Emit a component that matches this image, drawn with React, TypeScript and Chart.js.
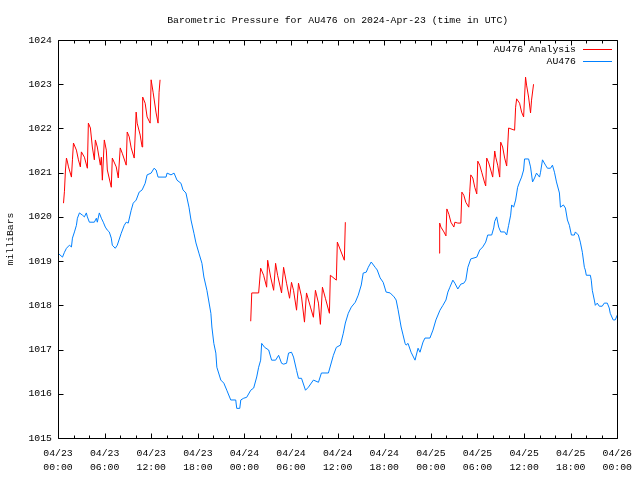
import React, { useEffect, useRef } from 'react';
import { Chart, registerables } from 'chart.js';

Chart.register(...registerables);

const TITLE = 'Barometric Pressure for AU476 on 2024-Apr-23 (time in UTC)';
const Y_TITLE = 'milliBars';
const ANALYSIS_LABEL = 'AU476 Analysis';
const OBS_LABEL = 'AU476';

const X_MIN = 0;
const X_MAX = 72;
const X_MAJOR_STEP = 6;
const X_MINOR_STEP = 2;
const Y_MIN = 1015;
const Y_MAX = 1024;

const X_TICK_DATES = ['04/23', '04/23', '04/23', '04/23', '04/24', '04/24', '04/24', '04/24', '04/25', '04/25', '04/25', '04/25', '04/26'];
const X_TICK_TIMES = ['00:00', '06:00', '12:00', '18:00', '00:00', '06:00', '12:00', '18:00', '00:00', '06:00', '12:00', '18:00', '00:00'];

// Observations (hours since 04/23 00:00 UTC)
const obsHours = [
  0, 0.58, 0.83, 1.09, 1.47, 1.73, 1.86, 2.12, 2.37, 2.5, 2.76, 3.14, 3.4, 3.65, 3.78, 4.04, 4.68, 4.94, 5.06, 5.32,
  5.58, 5.83, 6.09, 6.35, 6.6, 6.86, 6.99, 7.37, 7.63, 8.14, 8.53, 8.78, 9.04, 9.42, 9.68, 10.06, 10.45, 10.83, 11.22, 11.47,
  11.99, 12.37, 12.63, 12.88, 13.91, 14.04, 14.55, 14.94, 15.32, 15.83, 16.09, 16.47, 16.86, 17.12, 17.5, 17.76, 18.14, 18.53, 18.78, 19.17,
  19.68, 19.81, 20.06, 20.32, 20.45, 20.96, 21.35, 21.73, 22.24, 22.88, 23.01, 23.4, 23.53, 23.91, 24.29, 24.81, 25.19, 25.58, 25.83, 26.09,
  26.22, 26.6, 27.12, 27.5, 28.01, 28.4, 28.78, 29.04, 29.42, 29.68, 30.06, 30.32, 30.71, 30.96, 31.35, 31.86, 32.24, 32.88, 33.53, 33.91,
  34.81, 35.45, 35.83, 36.35, 36.73, 36.99, 37.37, 37.76, 38.27, 38.65, 39.04, 39.29, 39.68, 39.94, 40.32, 40.83, 41.09, 41.47, 41.86, 42.24,
  42.76, 43.27, 43.53, 43.78, 44.17, 44.42, 44.68, 44.81, 45.06, 45.45, 45.96, 46.35, 46.6, 46.99, 47.24, 47.88, 48.27, 48.65, 49.17, 49.55,
  49.94, 50.19, 50.45, 50.83, 51.09, 51.47, 51.86, 52.24, 52.5, 52.76, 53.14, 53.91, 54.29, 54.68, 55.06, 55.32, 55.83, 56.09, 56.22, 56.47,
  56.73, 56.99, 57.5, 57.76, 58.01, 58.27, 58.4, 58.65, 58.91, 59.17, 59.42, 59.68, 59.94, 60.06, 60.58, 60.83, 61.09, 61.35, 61.6, 61.99,
  62.12, 62.37, 62.76, 63.01, 63.4, 63.65, 63.91, 64.17, 64.55, 64.68, 65.06, 65.32, 65.58, 65.83, 66.09, 66.47, 66.6, 66.99, 67.24, 67.5,
  67.76, 67.88, 68.01, 68.53, 68.65, 68.78, 69.04, 69.17, 69.42, 69.68, 70.06, 70.32, 70.71, 70.96, 71.09, 71.47, 71.73, 72,
];
const obsPressure = [
  1019.18, 1019.09, 1019.2, 1019.29, 1019.36, 1019.32, 1019.52, 1019.66, 1019.81, 1019.97, 1020.09, 1020.04, 1020.0, 1020.09, 1020.0, 1019.88, 1019.88, 1019.97, 1019.88, 1020.09,
  1019.97, 1019.88, 1019.77, 1019.7, 1019.66, 1019.52, 1019.36, 1019.29, 1019.36, 1019.63, 1019.81, 1019.88, 1019.86, 1020.15, 1020.31, 1020.38, 1020.56, 1020.61, 1020.76, 1020.95,
  1020.99, 1021.1, 1021.06, 1020.9, 1020.9, 1020.99, 1020.95, 1020.99, 1020.83, 1020.76, 1020.61, 1020.54, 1020.22, 1019.93, 1019.63, 1019.41, 1019.18, 1018.95, 1018.64, 1018.34,
  1017.82, 1017.51, 1017.14, 1016.92, 1016.6, 1016.31, 1016.24, 1016.08, 1015.86, 1015.86, 1015.67, 1015.67, 1015.86, 1015.9, 1015.92, 1016.08, 1016.13, 1016.38, 1016.6, 1016.76,
  1017.14, 1017.05, 1016.99, 1016.76, 1016.76, 1016.87, 1016.69, 1016.67, 1016.69, 1016.92, 1016.94, 1016.83, 1016.53, 1016.35, 1016.35, 1016.08, 1016.15, 1016.31, 1016.26, 1016.47,
  1016.47, 1016.87, 1017.05, 1017.1, 1017.37, 1017.6, 1017.82, 1017.96, 1018.07, 1018.23, 1018.46, 1018.73, 1018.75, 1018.86, 1018.98, 1018.86, 1018.8, 1018.62, 1018.52, 1018.3,
  1018.28, 1018.19, 1018.12, 1017.9, 1017.51, 1017.33, 1017.14, 1017.1, 1017.14, 1016.94, 1016.76, 1017.03, 1016.94, 1017.17, 1017.26, 1017.26, 1017.44, 1017.67, 1017.89, 1018.0,
  1018.12, 1018.3, 1018.41, 1018.57, 1018.5, 1018.37, 1018.48, 1018.5, 1018.57, 1018.86, 1019.05, 1019.09, 1019.25, 1019.32, 1019.43, 1019.59, 1019.59, 1019.75, 1019.9, 1020.0,
  1019.77, 1019.66, 1019.66, 1019.59, 1019.81, 1020.04, 1020.27, 1020.22, 1020.38, 1020.67, 1020.79, 1020.9, 1021.06, 1021.31, 1021.31, 1021.13, 1020.79, 1020.88, 1020.99, 1020.9,
  1021.01, 1021.29, 1021.17, 1021.1, 1021.1, 1021.17, 1021.01, 1020.79, 1020.54, 1020.22, 1020.27, 1020.2, 1019.93, 1019.81, 1019.59, 1019.59, 1019.66, 1019.59, 1019.43, 1019.2,
  1018.86, 1018.8, 1018.68, 1018.68, 1018.57, 1018.34, 1018.12, 1018.0, 1018.05, 1017.98, 1017.98, 1018.05, 1018.05, 1017.94, 1017.82, 1017.67, 1017.67, 1017.78,
];

// Analysis, three runs
const anaHours1 = [
  0.71, 0.83, 0.96, 1.09, 1.22, 1.35, 1.73, 1.86, 1.99, 2.37, 2.63, 2.88, 3.01, 3.4, 3.78, 3.91, 4.17, 4.42,
  4.68, 4.81, 5.06, 5.45, 5.58, 5.71, 5.96, 6.22, 6.35, 6.86, 6.99, 7.5, 7.76, 8.01, 8.27, 8.78, 8.91, 9.17,
  9.42, 9.81, 10.06, 10.19, 10.58, 10.83, 10.9, 11.22, 11.47, 11.86, 11.99, 12.24, 12.63, 12.88, 13.01, 13.14,
];
const anaPressure1 = [
  1020.31, 1020.58, 1021.06, 1021.33, 1021.24, 1021.13, 1020.9, 1021.29, 1021.67, 1021.51, 1021.29, 1021.13, 1021.47, 1021.35, 1021.1, 1022.12, 1022.01, 1021.58,
  1021.29, 1021.74, 1021.58, 1021.17, 1021.35, 1020.83, 1021.74, 1021.51, 1021.06, 1020.67, 1021.33, 1021.13, 1020.88, 1021.56, 1021.44, 1021.17, 1021.92, 1021.81,
  1021.56, 1021.33, 1022.37, 1022.12, 1021.85, 1021.58, 1022.71, 1022.57, 1022.26, 1022.12, 1023.1, 1022.82, 1022.35, 1022.12, 1022.82, 1023.1,
];
const anaHours2 = [
  24.81, 24.94, 25.83, 26.09, 26.47, 26.86, 26.99, 27.37, 27.76, 28.01, 28.27, 28.78, 29.04, 29.42, 29.81, 30.06, 30.32, 30.71,
  30.96, 31.35, 31.73, 31.99, 32.5, 32.88, 33.14, 33.53, 33.78, 34.04, 34.42, 34.94, 35.06, 35.83, 35.96, 36.86, 36.99,
];
const anaPressure2 = [
  1017.64, 1018.28, 1018.28, 1018.84, 1018.68, 1018.41, 1019.02, 1018.64, 1018.34, 1018.95, 1018.68, 1018.28, 1018.86, 1018.5, 1018.16, 1018.52, 1018.34, 1017.89,
  1018.5, 1018.19, 1017.62, 1018.28, 1017.96, 1017.73, 1018.34, 1018.05, 1017.57, 1018.41, 1018.16, 1017.82, 1018.68, 1018.57, 1019.43, 1019.02, 1019.88,
];
const anaHours3 = [
  49.06, 49.1, 49.17, 49.29, 49.68, 49.94, 50.06, 50.32, 50.58, 50.96, 51.09, 51.47, 51.86, 51.99, 52.24, 52.5, 52.88, 53.01,
  53.14, 53.4, 53.65, 53.91, 54.04, 54.29, 54.55, 54.94, 55.06, 55.19, 55.45, 55.71, 55.96, 56.22, 56.35, 56.6, 56.86, 56.99,
  57.24, 57.5, 57.76, 58.01, 58.78, 58.91, 59.04, 59.42, 59.68, 59.94, 60.06, 60.19, 60.32, 60.58, 60.83, 60.96, 61.22,
];
const anaPressure3 = [
  1019.18, 1019.54, 1019.86, 1019.77, 1019.66, 1019.57, 1020.18, 1020.06, 1019.88, 1019.77, 1019.88, 1019.86, 1019.86, 1020.56, 1020.49, 1020.33, 1020.22, 1020.58,
  1020.95, 1020.88, 1020.67, 1020.52, 1021.26, 1021.17, 1021.01, 1020.76, 1020.7, 1021.33, 1021.22, 1021.06, 1020.9, 1021.49, 1021.35, 1021.17, 1020.9, 1021.69,
  1021.58, 1021.33, 1021.15, 1022.01, 1021.96, 1022.48, 1022.67, 1022.57, 1022.37, 1022.26, 1022.71, 1023.16, 1022.98, 1022.71, 1022.35, 1022.64, 1023.0,
];

const RED = '#ff0000';
const BLUE = '#0080ff';
const FONT_FAMILY = '"Liberation Mono", "DejaVu Sans Mono", monospace';
const FONT_SIZE = 9.8;

function toPoints(hs: number[], vs: number[]) {
  return hs.map((h, i) => ({ x: h, y: vs[i] }));
}

function analysisPoints() {
  const runs = [
    [anaHours1, anaPressure1],
    [anaHours2, anaPressure2],
    [anaHours3, anaPressure3],
  ];
  const out: { x: number; y: number | null }[] = [];
  runs.forEach(([hs, vs], k) => {
    if (k > 0) out.push({ x: (hs[0] as number) - 0.01, y: null });
    out.push(...toPoints(hs as number[], vs as number[]));
  });
  return out;
}

const gnuFrame = {
  id: 'gnuFrame',
  afterDraw(chart: any) {
    const { ctx, chartArea: a, scales } = chart;
    const xs = scales.x;
    const ys = scales.y;
    const L = Math.round(a.left) + 0.5;
    const R = Math.round(a.right) + 0.5;
    const T = Math.round(a.top) + 0.5;
    const B = Math.round(a.bottom) + 0.5;
    ctx.save();
    ctx.strokeStyle = '#000';
    ctx.lineWidth = 1;
    ctx.beginPath();
    ctx.rect(L, T, R - L, B - T);
    for (let h = X_MIN; h <= X_MAX; h += X_MINOR_STEP) {
      const px = Math.round(xs.getPixelForValue(h)) + 0.5;
      const len = h % X_MAJOR_STEP === 0 ? 5 : 3;
      ctx.moveTo(px, B);
      ctx.lineTo(px, B - len);
      ctx.moveTo(px, T);
      ctx.lineTo(px, T + len);
    }
    for (let v = Y_MIN; v <= Y_MAX; v += 1) {
      const py = Math.round(ys.getPixelForValue(v)) + 0.5;
      ctx.moveTo(L, py);
      ctx.lineTo(L + 5, py);
      ctx.moveTo(R, py);
      ctx.lineTo(R - 5, py);
    }
    ctx.stroke();

    ctx.fillStyle = '#000';
    ctx.font = `${FONT_SIZE}px ${FONT_FAMILY}`;
    ctx.textBaseline = 'middle';
    ctx.textAlign = 'center';
    ctx.fillText(TITLE, (a.left + a.right) / 2, 20);

    const legend = [
      { label: ANALYSIS_LABEL, color: RED },
      { label: OBS_LABEL, color: BLUE },
    ];
    legend.forEach((it, i) => {
      const y = 49 + i * 12;
      ctx.textAlign = 'right';
      ctx.fillStyle = '#000';
      ctx.fillText(it.label, 576, y);
      ctx.fillStyle = it.color;
      ctx.fillRect(583, y, 29, 1);
    });
    ctx.restore();
  },
};

export default function App() {
  const ref = useRef<HTMLCanvasElement | null>(null);
  useEffect(() => {
    if (!ref.current) return;
    const font = { family: FONT_FAMILY, size: FONT_SIZE };
    const chart = new Chart(ref.current, {
      type: 'line',
      data: {
        datasets: [
          {
            label: ANALYSIS_LABEL,
            data: analysisPoints() as any,
            borderColor: RED,
            borderWidth: 1,
            pointRadius: 0,
            tension: 0,
            spanGaps: false,
          },
          {
            label: OBS_LABEL,
            data: toPoints(obsHours, obsPressure),
            borderColor: BLUE,
            borderWidth: 1,
            pointRadius: 0,
            tension: 0,
          },
        ],
      },
      options: {
        responsive: false,
        animation: false,
        devicePixelRatio: 1,
        layout: { padding: { top: 40, right: 20, left: 0, bottom: 0 } },
        plugins: { legend: { display: false }, title: { display: false }, tooltip: { enabled: false } },
        scales: {
          x: {
            type: 'linear',
            min: X_MIN,
            max: X_MAX,
            grid: { display: false, drawTicks: false },
            border: { display: false },
            afterBuildTicks: (s: any) => {
              const t = [];
              for (let h = X_MIN; h <= X_MAX; h += X_MAJOR_STEP) t.push({ value: h });
              s.ticks = t;
            },
            afterFit: (s: any) => {
              s.height = 42;
            },
            ticks: {
              autoSkip: false,
              maxRotation: 0,
              minRotation: 0,
              padding: 8,
              color: '#000',
              font: { ...font, lineHeight: 1.45 },
              callback: (v: any) => {
                const i = Math.round(Number(v) / X_MAJOR_STEP);
                return [X_TICK_DATES[i], X_TICK_TIMES[i]];
              },
            },
          },
          y: {
            type: 'linear',
            min: Y_MIN,
            max: Y_MAX,
            grid: { display: false, drawTicks: false },
            border: { display: false },
            afterFit: (s: any) => {
              s.width = 58;
            },
            ticks: { stepSize: 1, padding: 6, color: '#000', font, callback: (v: any) => String(v) },
            title: { display: true, text: Y_TITLE, color: '#000', font, padding: { top: 5, bottom: 0 } },
          },
        },
      },
      plugins: [gnuFrame],
    });
    return () => chart.destroy();
  }, []);
  return (
    <div style={{ position: 'fixed', left: 0, top: 0, width: 640, height: 480, background: '#fff' }}>
      <canvas ref={ref} width={640} height={480} />
    </div>
  );
}
